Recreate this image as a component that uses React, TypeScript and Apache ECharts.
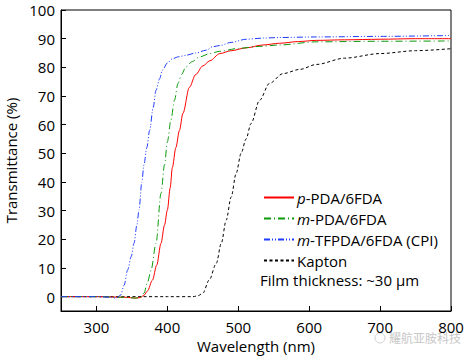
import React, { useEffect, useRef } from "react";
import * as echarts from "echarts";

const xTicks = [300, 400, 500, 600, 700, 800];
const yTicks = [0, 10, 20, 30, 40, 50, 60, 70, 80, 90, 100];

const seriesNames = ["p-PDA/6FDA", "m-PDA/6FDA", "m-TFPDA/6FDA (CPI)", "Kapton"];

const pWl = [250, 300, 340, 355, 362, 367, 372, 379, 385, 391, 396, 400, 404, 407, 412, 417, 422, 431, 440, 450, 460, 474, 490, 511, 535, 558, 585, 610, 650, 700, 750, 800];
const pT = [0, 0, -0.2, -0.5, -0.3, 0.5, 2, 5.8, 11, 18.6, 25, 30.2, 38, 45, 52, 58, 64, 73, 77.5, 80.5, 82.3, 84.8, 85.8, 86.8, 87.8, 88.4, 89, 89.4, 89.6, 89.8, 90, 90];

const mWl = [250, 300, 340, 355, 362, 367, 372, 377, 384, 391, 396, 400, 405, 410, 415, 420, 426, 435, 445, 460, 474, 500, 530, 558, 610, 700, 800];
const mT = [0, 0, -0.2, -0.5, -0.3, 1.2, 5, 9.3, 18.6, 36, 46, 54, 61.6, 68.5, 74.4, 77.5, 80.1, 82, 83.6, 84.8, 85.6, 86.6, 87.3, 87.8, 88.9, 89.1, 89.2];

const tfWl = [250, 300, 320, 328, 334, 339, 344, 349, 353, 357, 360, 364, 367, 371, 375, 380, 384, 389, 393, 400, 407, 416, 426, 440, 455, 464, 474, 490, 511, 535, 558, 610, 700, 800];
const tfT = [0, 0, -0.2, -0.5, 0.5, 4, 9.3, 14, 18.6, 25, 30.2, 40, 46, 52, 58, 66, 72, 76, 79, 81.5, 83, 83.7, 84.2, 85, 86, 87.2, 87.6, 88.7, 89.8, 90.2, 90.4, 90.6, 90.8, 91.1];

const kWl = [250, 300, 400, 436, 443, 450, 459, 469, 476, 483, 490, 497, 504, 511, 518, 530, 544, 563, 587, 610, 650, 700, 750, 800];
const kT = [0, 0, 0, 0, 0.3, 1.2, 5.8, 11.6, 18.6, 26.7, 34.8, 43, 50, 55, 60.4, 68.5, 74.4, 77.8, 79.3, 81, 83.2, 84.8, 85.8, 86.5];

const FONT = "Open Sans";

function pairs(x: number[], y: number[]) {
  return x.map((v, i) => [v, y[i]]);
}

export default function App() {
  const ref = useRef<HTMLDivElement>(null);
  useEffect(() => {
    if (!ref.current) return;
    const chart = echarts.init(ref.current, null, { renderer: "svg" });
    const mk = (name: string, data: number[][], color: string, dash: any) => ({
      name,
      type: "line",
      data,
      showSymbol: false,
      symbol: "none",
      smooth: 0.3,
      smoothMonotone: "x",
      lineStyle: { color, width: 1, type: dash },
      itemStyle: { color },
    });
    chart.setOption({
      animation: false,
      textStyle: { fontFamily: FONT },
      grid: {
        left: 61,
        right: 17,
        top: 10,
        bottom: 45,
        outerBoundsMode: "none",
        containLabel: false,
        show: true,
        borderColor: "#000",
        borderWidth: 1,
      },
      xAxis: {
        type: "value",
        min: 250,
        max: 800,
        name: "Wavelength (nm)",
        nameLocation: "middle",
        nameGap: 26,
        nameTextStyle: { fontSize: 15, color: "#000", fontFamily: FONT },
        axisLine: { show: true, onZero: false, lineStyle: { color: "#000", width: 1 } },
        axisTick: { show: true, inside: true, length: 5, customValues: xTicks, lineStyle: { color: "#000" } },
        axisLabel: { customValues: xTicks, fontSize: 15, color: "#000", margin: 8, fontFamily: FONT },
        splitLine: { show: false },
      },
      yAxis: {
        type: "value",
        min: -5,
        max: 100,
        name: "Transmittance (%)",
        nameLocation: "middle",
        nameGap: 40,
        nameTextStyle: { fontSize: 15, color: "#000", fontFamily: FONT },
        axisLine: { show: true, onZero: false, lineStyle: { color: "#000", width: 1 } },
        axisTick: { show: true, inside: true, length: 5, customValues: yTicks, lineStyle: { color: "#000" } },
        axisLabel: { customValues: yTicks, fontSize: 15, color: "#000", margin: 6, fontFamily: FONT },
        splitLine: { show: false },
      },
      legend: {
        orient: "vertical",
        left: 258,
        top: 185,
        itemWidth: 30,
        itemHeight: 14,
        itemGap: 6,
        data: seriesNames,
        itemStyle: { opacity: 0, borderWidth: 0 },
        formatter: (name: string) => {
          const m = name.match(/^([pm])-(.*)$/);
          if (m) return `{i|${m[1]}}{n|-${m[2]}}`;
          return `{n|${name}}`;
        },
        textStyle: {
          fontSize: 15,
          color: "#000",
          fontFamily: FONT,
          padding: [0, 0, 0, -2],
          rich: {
            i: { fontStyle: "italic", fontSize: 15, color: "#000", fontFamily: FONT },
            n: { fontSize: 15, color: "#000", fontFamily: FONT },
          },
        },
      },
      graphic: [
        {
          type: "text",
          left: 260,
          top: 272,
          style: { text: "Film thickness: ~30 μm", fontSize: 15, fill: "#000", fontFamily: FONT },
        },
        {
          type: "text",
          left: 389,
          top: 331,
          style: { text: "耀航亚胺科技", fontSize: 12, fill: "#c8c8c8", fontFamily: "Noto Sans CJK SC" },
        },
        {
          type: "circle",
          shape: { cx: 380, cy: 338, r: 5 },
          style: { fill: "none", stroke: "#d0d0d0", lineWidth: 1 },
        },
      ],
      series: [
        mk(seriesNames[3], pairs(kWl, kT), "#000000", [3, 2.5]),
        mk(seriesNames[0], pairs(pWl, pT), "#ff0000", "solid"),
        mk(seriesNames[1], pairs(mWl, mT), "#0a9a0a", [7, 3, 1, 3]),
        mk(seriesNames[2], pairs(tfWl, tfT), "#1e3cff", [6, 2, 1, 2, 1, 2]),
      ],
    });
    return () => chart.dispose();
  }, []);
  return (
    <div
      ref={ref}
      style={{ position: "fixed", left: 0, top: 0, width: 468, height: 356, background: "#fff" }}
    />
  );
}
